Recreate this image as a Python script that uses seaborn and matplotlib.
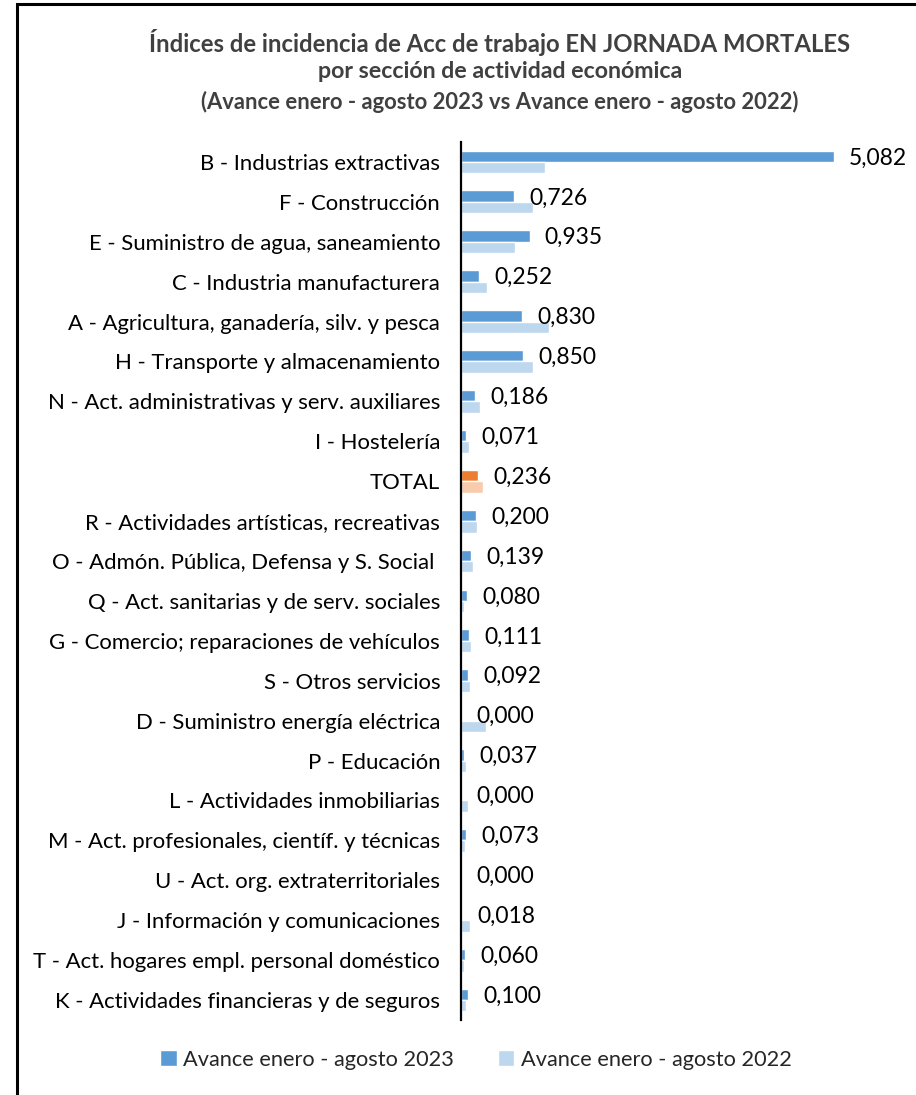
import matplotlib
matplotlib.use("Agg")
import matplotlib.pyplot as plt
import seaborn as sns
import pandas as pd
from matplotlib.patches import Rectangle, Patch

categories = [
    "B - Industrias extractivas",
    "F - Construcción",
    "E - Suministro de agua, saneamiento",
    "C - Industria manufacturera",
    "A - Agricultura, ganadería, silv. y pesca",
    "H - Transporte y almacenamiento",
    "N - Act. administrativas y serv. auxiliares",
    "I - Hostelería",
    "TOTAL",
    "R - Actividades artísticas, recreativas",
    "O - Admón. Pública, Defensa y S. Social ",
    "Q - Act. sanitarias y de serv. sociales",
    "G - Comercio; reparaciones de vehículos",
    "S - Otros servicios",
    "D - Suministro energía eléctrica",
    "P - Educación",
    "L - Actividades inmobiliarias",
    "M - Act. profesionales, científ. y técnicas",
    "U - Act. org. extraterritoriales",
    "J - Información y comunicaciones",
    "T - Act. hogares empl. personal doméstico",
    "K - Actividades financieras y de seguros",
]
values_2023 = [5.082, 0.726, 0.935, 0.252, 0.830, 0.850, 0.186, 0.071, 0.236, 0.200,
               0.139, 0.080, 0.111, 0.092, 0.000, 0.037, 0.000, 0.073, 0.000, 0.018,
               0.060, 0.100]
values_2022 = [1.14, 0.98, 0.73, 0.35, 1.20, 0.98, 0.26, 0.11, 0.30, 0.22,
               0.17, 0.045, 0.14, 0.127, 0.345, 0.068, 0.09, 0.05, 0.0, 0.12,
               0.036, 0.068]
series_names = ["Avance enero - agosto 2023", "Avance enero - agosto 2022"]
title_lines = ["Índices de incidencia de Acc de trabajo EN JORNADA MORTALES",
               "por sección de actividad económica",
               "(Avance enero - agosto 2023 vs Avance enero - agosto 2022)"]

df = pd.DataFrame({
    "cat": categories * 2,
    "val": values_2023 + values_2022,
    "serie": [series_names[0]] * len(categories) + [series_names[1]] * len(categories),
})

sns.set_theme(style="white")
plt.rcParams["font.family"] = ["Lato", "DejaVu Sans"]

W, H = 916, 1095
fig = plt.figure(figsize=(W / 100, H / 100), dpi=100)
ax = fig.add_axes([461 / W, 1 - 1020 / H, (905 - 461) / W, (1020 - 142) / H])

dark, light = "#5B9BD5", "#BDD7EE"
sns.barplot(data=df, y="cat", x="val", hue="serie", orient="h",
            palette=[dark, light], width=0.57, gap=0, ax=ax, legend=False,
            saturation=1)

# recolor TOTAL row
ti = categories.index("TOTAL")
n = len(categories)
for j, p in enumerate(ax.patches[:2 * n]):
    idx = j % n
    if idx == ti:
        p.set_facecolor("#ED7D31" if j < n else "#F8CBAD")

ax.set_xlim(0, (905 - 461) / 73.3)
ax.set_ylim(n - 0.5, -0.5)
ax.set_xlabel("")
ax.set_ylabel("")
ax.set_xticks([])
for s in ["top", "right", "bottom"]:
    ax.spines[s].set_visible(False)
ax.spines["left"].set_color("black")
ax.spines["left"].set_linewidth(1.6)
ax.tick_params(axis="y", length=0, pad=15, labelsize=15.9, labelcolor="black")

for i, v in enumerate(values_2023):
    ax.annotate(f"{v:.3f}".replace(".", ","), xy=(v, i - 0.1), xytext=(11, 0),
                textcoords="offset points", va="center", ha="left",
                fontsize=16.5, color="black")

# title
ys = [42, 72, 102]
sizes = [17.2, 16.7, 15.8]
for t, y, fs in zip(title_lines, ys, sizes):
    fig.text(500 / W, 1 - y / H, t, ha="center", va="center", fontsize=fs,
             fontweight="bold", color="#404040")

# legend
handles = [Patch(facecolor=dark), Patch(facecolor=light)]
fig.legend(handles, series_names, loc="center", bbox_to_anchor=(476 / W, 1 - 1060 / H),
           ncol=2, frameon=False, fontsize=15.7, handlelength=0.75, handleheight=0.75,
           handletextpad=0.3, columnspacing=2.0)

# outer frame
fig.patches.append(Rectangle((17 / W, -0.1), 1.2, 1 - 4 / H + 0.1, transform=fig.transFigure,
                             fill=False, edgecolor="black", linewidth=2.2))

fig.savefig("out.png", dpi=100)
